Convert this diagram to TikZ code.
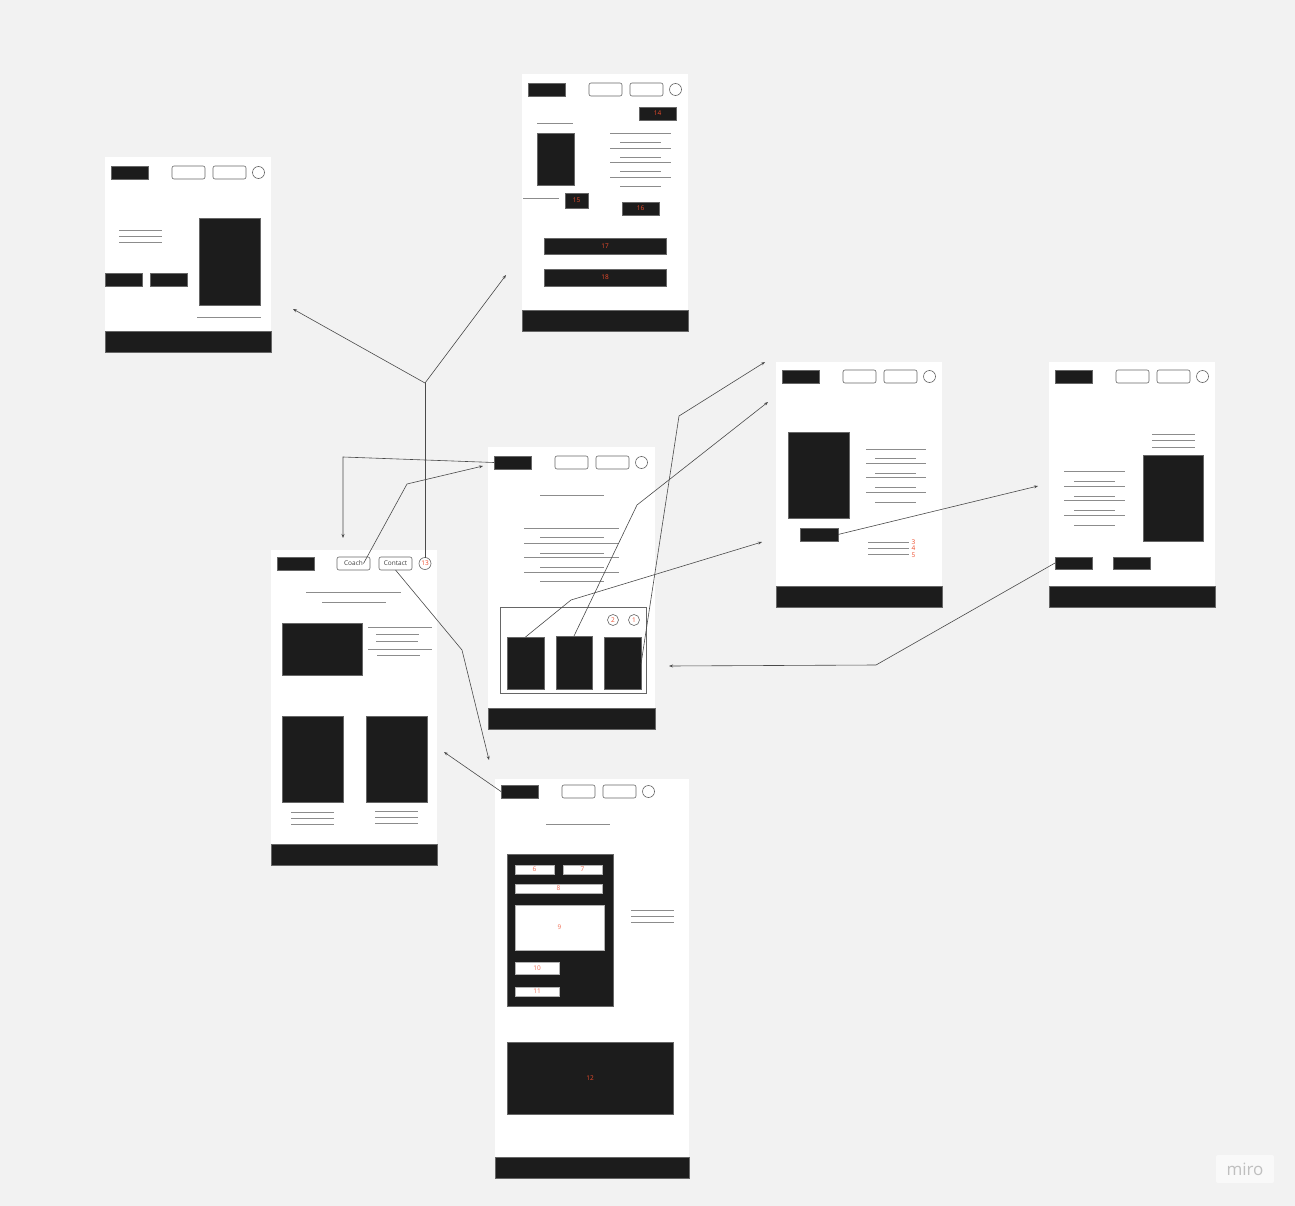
\documentclass[tikz,border=0pt]{standalone}
\usepackage{fontspec}
\setmainfont{Open Sans}
\usetikzlibrary{arrows.meta}
\definecolor{bg}{HTML}{F2F2F2}
\definecolor{ink}{HTML}{1C1C1C}
\definecolor{edge}{HTML}{666666}
\definecolor{tline}{HTML}{8C8C8C}
\definecolor{lbl}{HTML}{EE4B2B}
\definecolor{conn}{HTML}{4A4A4A}
\newcommand\wfbox[7]{\node[#6, minimum width={(#4)-(#2)}, minimum height={(#5)-(#3)}] (#1) at ({((#2)+(#4))/2},{((#3)+(#5))/2}) {#7};}
\newcommand\hdr[3]{%
 \wfbox{#1logo}{#2+6}{#3}{#2+43}{#3+13}{blk}{}%
 \wfbox{#1b1}{#2+67}{#3}{#2+100}{#3+13}{btn}{}%
 \wfbox{#1b2}{#2+108}{#3}{#2+141}{#3+13}{btn}{}%
 \node[dot] (#1c) at ({#2+153.5},{#3+6.5}) {};}
\tikzset{
 frame/.style={fill=white, draw=none, inner sep=0pt, outer sep=0pt},
 blk/.style={fill=ink, draw=edge, line width=0.5pt, inner sep=0pt, outer sep=0pt, text=lbl, font=\fontsize{6.5}{7}\selectfont},
 btn/.style={fill=white, draw=edge, line width=0.6pt, rounded corners=2pt, inner sep=0pt, outer sep=0pt, text=ink!85, font=\fontsize{6.5}{7}\selectfont},
 fld/.style={fill=white, draw=edge!50, line width=0.5pt, inner sep=0pt, outer sep=0pt, text=lbl!80, font=\fontsize{6.5}{7}\selectfont},
 box/.style={fill=white, draw=edge, line width=0.6pt, inner sep=0pt, outer sep=0pt},
 dot/.style={circle, draw=edge, fill=white, line width=0.6pt, minimum size=12pt, inner sep=0pt, outer sep=0pt, text=lbl, font=\fontsize{6.5}{7}\selectfont},
 tl/.style={draw=tline, line width=0.8pt},
 num/.style={text=lbl, inner sep=0pt, font=\fontsize{6.5}{7}\selectfont},
 link/.style={draw=conn, line width=0.6pt, -{Stealth[length=4pt,width=3pt]}},
 plain/.style={draw=conn, line width=0.6pt},
}
\begin{document}
\begin{tikzpicture}[x=1pt,y=-1pt]
\useasboundingbox (0,0) rectangle (1295,1206);
\fill[bg] (0,0) rectangle (1295,1206);

% ---------- Frame A ----------
\wfbox{fA}{105}{157}{271}{352}{frame}{}
\hdr{A}{105}{166}
\draw[tl] (119,230) -- (162,230) (119,236) -- (162,236) (119,242) -- (162,242);
\wfbox{Abt1}{105}{273}{142}{286}{blk}{}
\wfbox{Abt2}{150}{273}{187}{286}{blk}{}
\wfbox{Aimg}{199}{218}{260}{305}{blk}{}
\draw[tl] (197,317) -- (261,317);
\wfbox{Aft}{105}{331}{271}{352}{blk}{}

% ---------- Frame B ----------
\wfbox{fB}{522}{74}{688}{331}{frame}{}
\hdr{B}{522}{83}
\wfbox{B14}{639}{107}{676}{120}{blk}{14}
\draw[tl] (537,123) -- (573,123);
\wfbox{Bimg}{537}{133}{574}{185}{blk}{}
\foreach \y in {133,148,162,177} \draw[tl] (610,\y) -- (671,\y);
\foreach \y in {142,157,171,186} \draw[tl] (620,\y) -- (661,\y);
\draw[tl] (523,198) -- (559,198);
\wfbox{B15}{565}{193}{588}{208}{blk}{15}
\wfbox{B16}{622}{202}{659}{215}{blk}{16}
\wfbox{B17}{544}{238}{666}{254}{blk}{17}
\wfbox{B18}{544}{269}{666}{286}{blk}{18}
\wfbox{Bft}{522}{310}{688}{331}{blk}{}

% ---------- Frame C ----------
\wfbox{fC}{271}{550}{437}{865}{frame}{}
\wfbox{Clogo}{277}{557}{314}{570}{blk}{}
\wfbox{coach}{337}{557}{370}{570}{btn}{Coach}
\wfbox{contact}{379}{557}{412}{570}{btn}{Contact}
\node[dot] (c13) at (425,563.5) {13};
\draw[tl] (306,592) -- (401,592) (322,602) -- (386,602);
\wfbox{Cimg1}{282}{623}{362}{675}{blk}{}
\draw[tl] (368,627) -- (432,627) (376,634) -- (419,634) (376,641) -- (418,641) (368,649) -- (432,649) (377,655) -- (420,655);
\wfbox{Cimg2}{282}{716}{343}{802}{blk}{}
\wfbox{Cimg3}{366}{716}{427}{802}{blk}{}
\foreach \y in {812,818,824} \draw[tl] (291,\y) -- (334,\y);
\foreach \y in {811,817,823} \draw[tl] (375,\y) -- (418,\y);
\wfbox{Cft}{271}{844}{437}{865}{blk}{}

% ---------- Frame D ----------
\wfbox{fD}{488}{447}{655}{729}{frame}{}
\hdr{D}{488}{456}
\draw[tl] (540,495) -- (604,495);
\foreach \y in {528,543,557,572} \draw[tl] (524,\y) -- (619,\y);
\foreach \y in {537,553,567,581} \draw[tl] (540,\y) -- (604,\y);
\wfbox{Dbox}{500}{607}{646}{693}{box}{}
\node[dot, minimum size=11pt] (Dc2) at (613,620) {2};
\node[dot, minimum size=11pt] (Dc1) at (634,620) {1};
\wfbox{Dk1}{507}{637}{544}{689}{blk}{}
\wfbox{Dk2}{556}{636}{592}{689}{blk}{}
\wfbox{Dk3}{604}{637}{641}{689}{blk}{}
\wfbox{Dft}{488}{708}{655}{729}{blk}{}

% ---------- Frame E ----------
\wfbox{fE}{776}{362}{942}{607}{frame}{}
\hdr{E}{776}{370}
\wfbox{Eimg}{788}{432}{849}{518}{blk}{}
\foreach \y in {449,463,477,492} \draw[tl] (866,\y) -- (926,\y);
\foreach \y in {458,473,487,502} \draw[tl] (875,\y) -- (916,\y);
\wfbox{Ebtn}{800}{528}{838}{541}{blk}{}
\foreach \y in {542,548,554} \draw[tl] (868,\y) -- (909,\y);
\node[num] (n3) at (913.5,542) {3};
\node[num] (n4) at (913.5,548.5) {4};
\node[num] (n5) at (913.5,555) {5};
\wfbox{Eft}{776}{586}{942}{607}{blk}{}

% ---------- Frame F ----------
\wfbox{fF}{1049}{362}{1215}{607}{frame}{}
\hdr{F}{1049}{370}
\foreach \y in {434,440,447} \draw[tl] (1152,\y) -- (1195,\y);
\wfbox{Fimg}{1143}{455}{1203}{541}{blk}{}
\foreach \y in {471,486,500,515} \draw[tl] (1064,\y) -- (1125,\y);
\foreach \y in {481,496,510,525} \draw[tl] (1074,\y) -- (1115,\y);
\wfbox{Fb1}{1055}{557}{1092}{569}{blk}{}
\wfbox{Fb2}{1113}{557}{1150}{569}{blk}{}
\wfbox{Fft}{1049}{586}{1215}{607}{blk}{}

% ---------- Frame G ----------
\wfbox{fG}{495}{779}{689}{1178}{frame}{}
\hdr{G}{495}{785}
\draw[tl] (546,824) -- (610,824);
\wfbox{Gform}{507}{854}{613}{1006}{blk}{}
\wfbox{G6}{515}{865}{554}{874}{fld}{6}
\wfbox{G7}{563}{865}{602}{874}{fld}{7}
\wfbox{G8}{515}{884}{602}{893}{fld}{8}
\wfbox{G9}{515}{905}{604}{950}{fld}{9}
\wfbox{G10}{515}{962}{559}{974}{fld}{10}
\wfbox{G11}{515}{987}{559}{996}{fld}{11}
\foreach \y in {910,916,922} \draw[tl] (631,\y) -- (674,\y);
\wfbox{G12}{507}{1042}{673}{1114}{blk}{12}
\wfbox{Gft}{495}{1157}{689}{1178}{blk}{}

% ---------- miro mark ----------
\node[fill=white!55!bg, rounded corners=2pt, minimum width=58pt, minimum height=28pt, inner sep=0pt, text=black!25, font=\fontsize{17}{17}\selectfont] (miro) at (1245,1169) {miro};

% ---------- connectors ----------
\coordinate (j1) at (425,383);
\coordinate (tA) at (293,309);
\coordinate (tB) at (506,275);
\draw[plain] (c13.north) -- (j1);
\draw[link] (j1) -- (tA);
\draw[link] (j1) -- (tB);

\coordinate (k2) at (343,457);
\coordinate (tC) at (343,538);
\draw[link] (Dlogo.west) -- (k2) -- (tC);

\coordinate (k3) at (407,484);
\coordinate (tD) at (483,466);
\draw[link] ([xshift=10pt]coach.center) -- (k3) -- (tD);

\coordinate (k4) at (462,650);
\coordinate (tG) at (489,760);
\draw[link] (contact.south) -- (k4) -- (tG);

\coordinate (tC2) at (444,752);
\draw[link] (Glogo.west) -- (tC2);

\coordinate (k6) at (571,600);
\coordinate (tE1) at (762,542);
\draw[link] (Dk1.north) -- (k6) -- (tE1);

\coordinate (k7) at (637,505);
\coordinate (tE2) at (768,402);
\draw[link] (Dk2.north) -- (k7) -- (tE2);

\coordinate (k8) at (679,416);
\coordinate (tE3) at (765,362);
\draw[link] ([yshift=-1pt]Dk3.east) -- (k8) -- (tE3);

\coordinate (tF) at (1038,486);
\draw[link] (Ebtn.east) -- (tF);

\coordinate (k10) at (876,665);
\coordinate (tD2) at (669,666);
\draw[link] (Fb1.west) -- (k10) -- (tD2);
\end{tikzpicture}
\end{document}
